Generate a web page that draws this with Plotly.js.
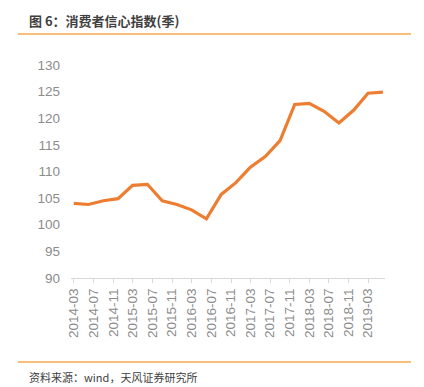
<!DOCTYPE html>
<html><head><meta charset="utf-8">
<script src="https://cdn.plot.ly/plotly-3.0.1.min.js"></script>
<style>html,body{margin:0;padding:0;background:#fff;}#c{width:424px;height:387px;}</style>
</head><body><div id="c"></div>
<script>
const dates = ["2014-03-01","2014-06-01","2014-09-01","2014-12-01","2015-03-01","2015-06-01","2015-09-01","2015-12-01","2016-03-01","2016-06-01","2016-09-01","2016-12-01","2017-03-01","2017-06-01","2017-09-01","2017-12-01","2018-03-01","2018-06-01","2018-09-01","2018-12-01","2019-03-01","2019-06-01"];
const values = [104.0,103.8,104.5,104.9,107.4,107.6,104.5,103.8,102.8,101.1,105.7,107.9,110.8,112.8,115.8,122.6,122.8,121.3,119.1,121.5,124.7,124.9];
const titleText = "图 6：消费者信心指数(季)";
const sourceText = "资料来源：wind，天风证券研究所";
const yTicks = [90,95,100,105,110,115,120,125,130];

const L=71, R=385, T=65, B=278;
const px = x => (x-L)/(R-L);
const py = y => (B-y)/(B-T);

Plotly.newPlot('c',[{
  x: dates, y: values, type:'scatter', mode:'lines',
  line:{color:'#ed7d31', width:3.2}, hoverinfo:'skip'
}],{
  width:424, height:387,
  margin:{l:L, r:424-R, t:T, b:387-B, pad:0},
  paper_bgcolor:'#fff', plot_bgcolor:'#fff',
  showlegend:false,
  font:{family:'"Liberation Sans", "Noto Sans CJK SC", sans-serif', color:'#808080', size:13},
  xaxis:{type:'date', range:['2014-02-12','2019-06-14'], tick0:'2014-03-01', dtick:'M4', tickformat:'%Y-%m',
    tickangle:-90, showgrid:false, zeroline:false, showline:true, linecolor:'#d9d9d9', linewidth:1,
    ticks:'outside', ticklen:4, tickcolor:'#d9d9d9', tickfont:{size:13.5, color:'#8c8c8c'}},
  yaxis:{range:[90,130], tickvals:yTicks, showgrid:false, zeroline:false, showline:false, ticks:'',
    tickfont:{size:13.5, color:'#8c8c8c'}, ticklabelstandoff:10},
  shapes:[
    {type:'line', xref:'paper', yref:'paper', x0:px(18), x1:px(411), y0:py(34), y1:py(34), line:{color:'#f7a94f', width:1.3}},
    {type:'line', xref:'paper', yref:'paper', x0:px(18), x1:px(411), y0:py(362), y1:py(362), line:{color:'#f7a94f', width:1.3}}
  ],
  annotations:[
    {text:'<b>'+titleText+'</b>', xref:'paper', yref:'paper', x:px(27), y:py(20), xanchor:'left', yanchor:'middle', showarrow:false,
     font:{family:'"Noto Sans CJK SC", sans-serif', size:13, color:'#404040'}},
    {text:sourceText, xref:'paper', yref:'paper', x:px(27), y:py(377), xanchor:'left', yanchor:'middle', showarrow:false,
     font:{family:'"Noto Sans CJK SC", sans-serif', size:11, color:'#404040'}}
  ]
},{displayModeBar:false, staticPlot:true});
</script></body></html>
